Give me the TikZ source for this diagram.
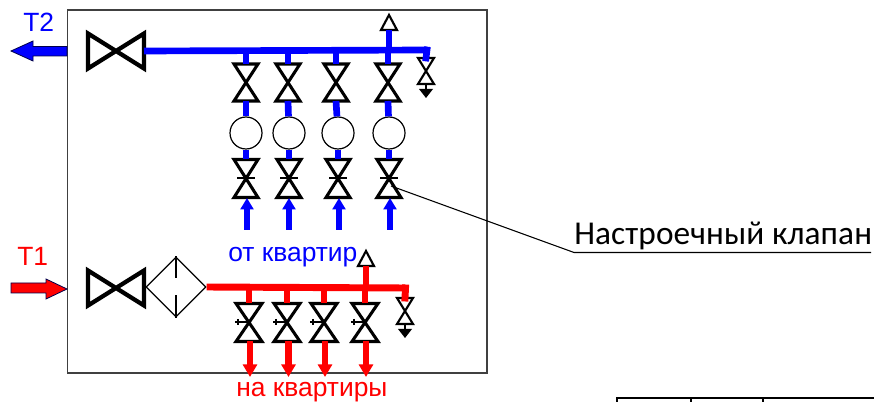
\documentclass[tikz,border=0pt]{standalone}
\usepackage{fontspec}
\setmainfont{Liberation Sans}
\newfontfamily\notefont[LetterSpace=0.3]{Carlito}
\usetikzlibrary{arrows.meta,shapes.geometric}
\definecolor{pipeblue}{RGB}{0,0,255}
\definecolor{pipered}{RGB}{255,0,0}
\tikzset{
    frameline/.style={draw=black!75, line width=1.1pt},
    bluepipe/.style={draw=pipeblue, line width=5pt},
    redpipe/.style={draw=pipered, line width=5.2pt},
    bluein/.style={bluepipe, -{Triangle[length=8.5pt,width=9.5pt]}},
    redout/.style={redpipe, -{Triangle[length=9.5pt,width=10.5pt]}},
    bigarrow/.style={draw=black!70!blue, line width=0.6pt, line join=miter},
    schemetext/.style={font=\fontsize{19.8}{20}\selectfont, inner sep=0pt, anchor=base west},
    meterring/.style={circle, draw, line width=0.9pt, fill=white, minimum size=24pt, inner sep=0pt},
    pics/valve/.style n args={3}{code={
        \draw[line width=#3, line join=miter, fill=white] (-#1,-#2) -- (#1,-#2) -- (-#1,#2) -- (#1,#2) -- cycle;
        \coordinate (-top) at (0,-#2);
        \coordinate (-bot) at (0,#2);
    }},
    pics/sidevalve/.style n args={3}{code={
        \draw[line width=#3, line join=miter, fill=white] (-#1,-#2) -- (-#1,#2) -- (#1,-#2) -- (#1,#2) -- cycle;
        \coordinate (-left) at (-#1,0);
        \coordinate (-right) at (#1,0);
    }},
    pics/drain/.style={code={
        \draw[line width=1.6pt, line join=miter, fill=white] (-8,-13) -- (8,-13) -- (-8,13) -- (8,13) -- cycle;
        \draw[line width=0.9pt] (0,13) -- (0,19);
        \fill (-7,18) -- (7,18) -- (0,27) -- cycle;
        \coordinate (-top) at (0,-13);
    }},
    pics/airvent/.style={code={
        \draw[line width=1.6pt, line join=miter, fill=white] (0,-15) -- (8,0) -- (-8,0) -- cycle;
        \coordinate (-base) at (0,0);
    }}
}
\begin{document}
\begin{tikzpicture}[x=0.75pt, y=-0.75pt]
    \useasboundingbox (0,0) rectangle (874,402);

    \draw[frameline] (67.5,10) rectangle (487,373);

    % T2
    \pic (mainback) at (116,51) {sidevalve={28}{17.5}{3.2pt}};
    \pic (airback) at (389,30) {airvent};
    \pic (drainback) at (426,71) {drain};
    \coordinate (backend) at (427,50);
    \draw[bluepipe] (mainback-right) -- (backend);
    \draw[bluepipe, line cap=rect] (backend) -- (drainback-top);
    \draw[bluepipe] (airback-base) -- (389,50);
    \draw[bigarrow, fill=pipeblue] (67,46.5) -- (33,46.5) -- (33,41) -- (11,51) -- (33,61) -- (33,56) -- (67,56) -- cycle;
    \node[schemetext, text=pipeblue] (labelback) at (23,32) {T2};

    \foreach \name/\xa/\xb/\xc in {a/246/246/247, b/288/289/289, c/336/338/339, d/388/389/390} {
        \coordinate (tee\name) at (\xa,50);
        \pic (upper\name) at (\xa,82.5) {valve={12}{18.5}{2.3pt}};
        \pic (lower\name) at (\xb,178.5) {valve={12}{19}{2.3pt}};
        \node[meterring] (meter\name) at (\xb,133) {};
        \coordinate (from\name) at (\xc,230);
        \draw[bluepipe] (tee\name) -- (upper\name-top);
        \draw[bluepipe] (upper\name-bot) -- (meter\name);
        \draw[bluepipe] (meter\name) -- (lower\name-top);
        \draw[bluein] (from\name) -- (\xc,198);
        \draw[line width=0.8pt] (\xb-9,178) -- (\xb+9,178);
    }

    % T1
    \pic (mainsupply) at (116,288) {sidevalve={28}{17.5}{3.2pt}};
    \node[diamond, draw, line width=0.9pt, minimum size=45pt, inner sep=0pt, aspect=1] (filter) at (176,287) {};
    \draw[line width=0.9pt] (filter.north) -- (176,278);
    \draw[line width=0.9pt] (filter.south) -- (176,295);
    \pic (airsupply) at (366,266) {airvent};
    \pic (drainsupply) at (405,311) {drain};
    \coordinate (supplyend) at (405.5,288);
    \draw[redpipe] (filter.east) -- (supplyend);
    \draw[redpipe, line cap=rect] (supplyend) -- (drainsupply-top);
    \draw[redpipe] (airsupply-base) -- (366,288);
    \draw[bigarrow, fill=pipered] (11,283) -- (46,283) -- (46,279) -- (67,289) -- (46,299) -- (46,293) -- (11,293) -- cycle;
    \node[schemetext, text=pipered] (labelsupply) at (17,266) {T1};

    \foreach \name/\xa/\xb in {a/249/250, b/287/288.5, c/324/325, d/365/366} {
        \coordinate (tee\name) at (\xa,288);
        \pic (out\name) at (\xa,322.5) {valve={13}{19}{2.3pt}};
        \coordinate (to\name) at (\xb,377);
        \draw[redpipe] (tee\name) -- (out\name-top);
        \draw[redout] (\xb,341.5) -- (to\name);
        \draw[line width=0.8pt] (\xa-14,322) -- (\xa,322);
        \draw[line width=0.8pt] (\xa-11,319) -- (\xa-11,325);
    }

    \node[schemetext, text=pipeblue] (labelfrom) at (228,262) {от квартир};
    \node[schemetext, text=pipered] (labelto) at (236,397) {на квартиры};

    % leader
    \coordinate (leadstart) at (391,186);
    \coordinate (leadbend) at (574,252.5);
    \coordinate (leadend) at (871,252.5);
    \draw[line width=0.8pt] (leadstart) -- (leadbend) -- (leadend);
    \node[inner sep=0pt, anchor=base west, font=\fontsize{25}{25}\notefont] (note) at (574,245) {Настроечный клапан};

    % title block corner
    \draw[line width=0.8pt] (617,402) -- (617,398) -- (874,398);
    \draw[line width=0.8pt] (691,398) -- (691,402);
    \draw[line width=0.8pt] (763,398) -- (763,402);
\end{tikzpicture}
\end{document}
